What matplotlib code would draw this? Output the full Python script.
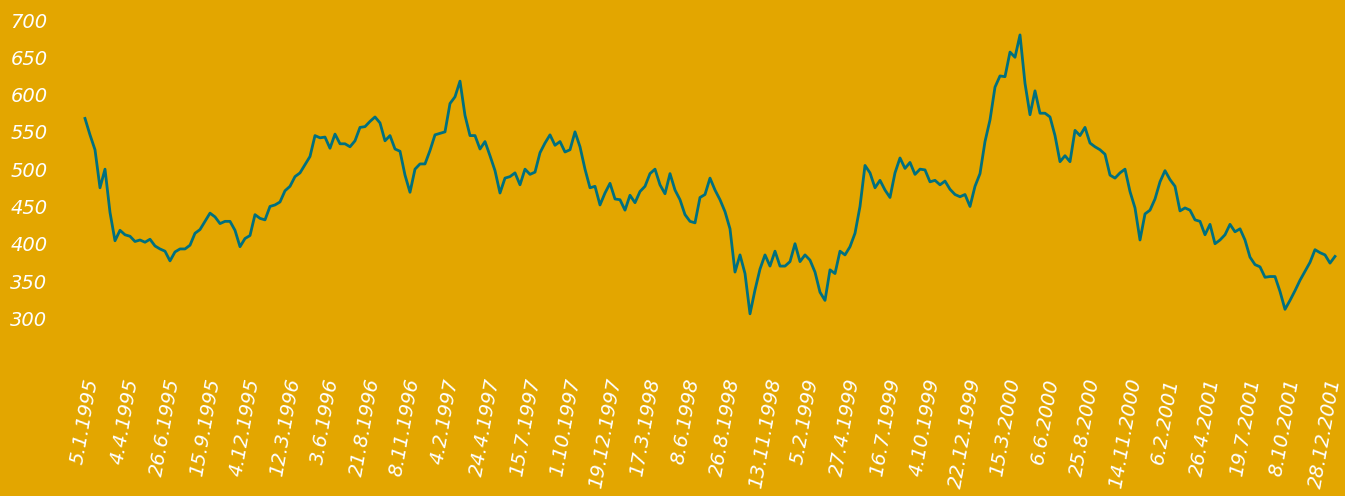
import matplotlib
matplotlib.use("Agg")
import matplotlib.pyplot as plt
import numpy as np

# index values, one sample every 7.5 trading days (8 samples between labels)
values = [
    568, 546, 526, 475, 500, 442, 404, 418, 412, 410,
    403, 405, 402, 406, 397, 393, 390, 377, 389, 393,
    393, 398, 414, 419, 430, 441, 436, 427, 430, 430,
    418, 396, 407, 411, 439, 434, 432, 450, 452, 456,
    471, 477, 490, 495, 506, 517, 545, 542, 543, 528,
    547, 534, 534, 530, 538, 556, 557, 564, 570, 562,
    538, 545, 527, 524, 492, 469, 500, 507, 507, 525,
    546, 548, 550, 588, 597, 618, 572, 545, 545, 527,
    537, 518, 498, 468, 488, 490, 495, 479, 500, 493,
    496, 522, 535, 546, 532, 537, 523, 526, 550, 530,
    500, 475, 477, 452, 468, 481, 460, 459, 445, 465,
    455, 470, 477, 494, 500, 479, 467, 494, 472, 459,
    439, 430, 428, 462, 466, 488, 472, 459, 443, 420,
    362, 385, 360, 306, 338, 366, 385, 370, 390, 370,
    370, 376, 400, 376, 385, 378, 362, 335, 324, 365,
    360, 390, 385, 396, 414, 450, 505, 495, 475, 485,
    472, 462, 495, 515, 501, 509, 493, 500, 499, 483,
    485, 479, 484, 473, 466, 463, 466, 450, 477, 494,
    537, 566, 610, 625, 624, 657, 650, 680, 615, 573,
    605, 575, 575, 570, 545, 510, 518, 510, 552, 545,
    556, 535, 530, 526, 520, 492, 488, 495, 500, 470,
    448, 405, 440, 445, 460, 483, 498, 486, 477, 444,
    448, 445, 432, 430, 412, 426, 400, 405, 412, 426,
    416, 420, 405, 382, 372, 369, 355, 356, 356, 336,
    312, 324, 337, 351, 363, 375, 392, 388, 385, 374,
    383,
]

date_labels = [
    "5.1.1995", "4.4.1995", "26.6.1995", "15.9.1995", "4.12.1995",
    "12.3.1996", "3.6.1996", "21.8.1996", "8.11.1996", "4.2.1997",
    "24.4.1997", "15.7.1997", "1.10.1997", "19.12.1997", "17.3.1998",
    "8.6.1998", "26.8.1998", "13.11.1998", "5.2.1999", "27.4.1999",
    "16.7.1999", "4.10.1999", "22.12.1999", "15.3.2000", "6.6.2000",
    "25.8.2000", "14.11.2000", "6.2.2001", "26.4.2001", "19.7.2001",
    "8.10.2001", "28.12.2001",
]
label_step = 8

y_ticks = [300, 350, 400, 450, 500, 550, 600, 650, 700]

bg = "#E3A600"
line_col = "#00707F"

W, H = 1345, 496
fig = plt.figure(figsize=(W / 100, H / 100), dpi=100, facecolor=bg)
ax = fig.add_axes([85 / W, 1 - 318.3 / H, (1335 - 85) / W, (318.3 - 20) / H])
ax.set_facecolor(bg)

x = np.arange(len(values))
ax.plot(x, values, color=line_col, lw=2.0, clip_on=False, solid_joinstyle="round")

ax.set_xlim(0, len(values) - 1)
ax.set_ylim(300, 700)

font = dict(family="DejaVu Sans", style="oblique", size=14, color="white")

ax.set_yticks(y_ticks)
ax.set_yticklabels([str(v) for v in y_ticks], **font)
ax.set_xticks(np.arange(len(date_labels)) * label_step)
ax.set_xticklabels(date_labels, rotation=80, ha="center", va="top", **font)

ax.tick_params(axis="y", length=0, pad=27)
ax.tick_params(axis="x", length=0, pad=42)
for s in ax.spines.values():
    s.set_visible(False)

fig.savefig("out.png", dpi=100, facecolor=bg)
